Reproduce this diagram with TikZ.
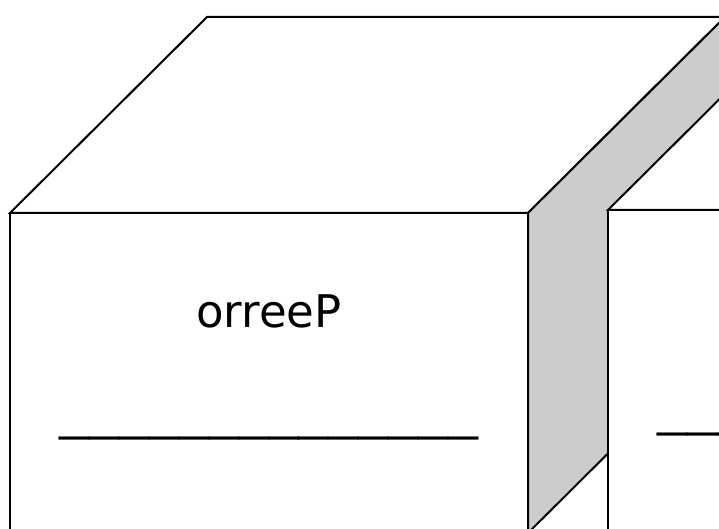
\documentclass[tikz,border=0pt]{standalone}
\usepackage{fontspec}
\setmainfont{DejaVu Sans}
\newfontfamily\blankfont[FakeStretch=1.33]{DejaVu Sans}
\usetikzlibrary{positioning}

\begin{document}
\begin{tikzpicture}[x=1pt,y=-1pt,line width=2pt,
    face/.style={draw=black,fill=white},
    side/.style={draw=black,fill=black!20},
    boxlabel/.style={font=\fontsize{45}{54}\selectfont,inner sep=0pt,anchor=base},
    blankline/.style={font=\blankfont\fontsize{45}{54}\selectfont,inner sep=0pt,anchor=base}]
  \useasboundingbox (0,0) rectangle (719,529);
  \clip (0,0) rectangle (719,529);
  % first crate
  \draw[face] (10,213) -- (207,17) -- (725,17) -- (528,213) -- cycle;
  \draw[side] (528,213) -- (725,17) -- (725,337) -- (528,533) -- cycle;
  \draw[face] (10,213) rectangle (528,533);
  \node[boxlabel] (name1) at (269,327) {orreeP};
  \node[blankline] (blank1) at (269,429) {\_\_\_\_\_\_\_\_\_\_\_\_\_\_};
  % second crate
  \draw[face] (608,210) -- (805,14) -- (1323,14) -- (1126,210) -- cycle;
  \draw[face] (608,210) rectangle (1126,530);
  \node[blankline] (blank2) at (867,425) {\_\_\_\_\_\_\_\_\_\_\_\_\_\_};
\end{tikzpicture}
\end{document}
